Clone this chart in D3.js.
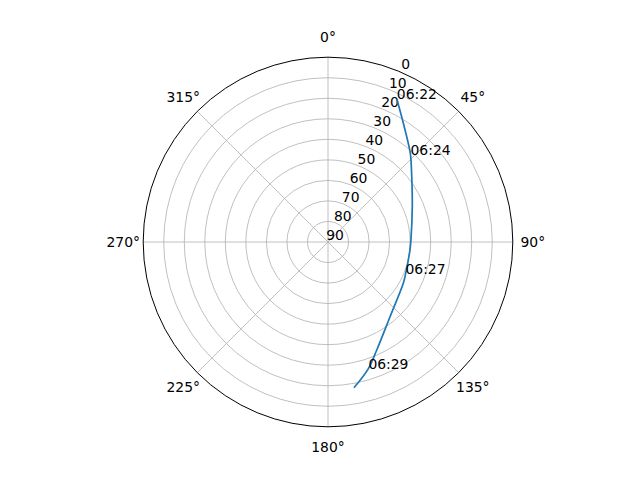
<!DOCTYPE html>
<html>
<head>
<meta charset="utf-8">
<script src="https://cdn.jsdelivr.net/npm/d3@7"></script>
<style>
  body { margin: 0; background: #fff; }
  text { font-family: "DejaVu Sans", sans-serif; font-size: 13.9px; fill: #000; }
</style>
</head>
<body>
<div id="chart"></div>
<script>
// satellite pass: azimuth (deg, clockwise from north) and elevation (deg)
let azimuth   = [25.7, 32.4, 40.4, 43.5, 50.6, 67.3, 88.6, 95.6, 112.7, 118.7, 140.3, 155.7, 162.3, 169.9];
let elevation = [12.7, 21.5, 29.1, 31.6, 37.3, 45.5, 49.6, 49.9, 49.1, 48.2, 42.7, 32.3, 25.3, 17.9];
let times     = ["06:22", "", "", "06:24", "", "", "", "", "06:27", "", "", "", "06:29", ""];

let angleTicks = [0, 45, 90, 135, 180, 225, 270, 315];
let elevTicks  = [0, 10, 20, 30, 40, 50, 60, 70, 80, 90];

let width = 640, height = 480;
let cx = 328, cy = 242, R = 184.8;

let svg = d3.select("#chart")
  .append("svg")
    .attr("width", width)
    .attr("height", height);

let g = svg.append("g").attr("transform", "translate(" + cx + "," + cy + ")");

// elevation 90 at the centre, 0 at the rim
let r = d3.scaleLinear().domain([90, 0]).range([0, R]);
let ang = d3.scaleLinear().domain([0, 360]).range([0, 2 * Math.PI]);

function px(a, e) { return r(e) * Math.sin(ang(a)); }
function py(a, e) { return -r(e) * Math.cos(ang(a)); }

// grid circles
g.selectAll(".ring").data(elevTicks.filter(d => d > 0 && d < 90)).enter()
  .append("circle")
  .attr("r", d => r(d))
  .attr("fill", "none")
  .attr("stroke", "#b0b0b0")
  .attr("stroke-width", 0.8);

// spokes
g.selectAll(".spoke").data(angleTicks).enter()
  .append("line")
  .attr("x1", 0).attr("y1", 0)
  .attr("x2", d => px(d, 0))
  .attr("y2", d => py(d, 0))
  .attr("stroke", "#b0b0b0")
  .attr("stroke-width", 0.8);

// outer spine
g.append("circle")
  .attr("r", r(0))
  .attr("fill", "none")
  .attr("stroke", "#000")
  .attr("stroke-width", 1);

// angle labels
g.selectAll(".alabel").data(angleTicks).enter()
  .append("text")
  .attr("x", d => Math.sin(ang(d)) * (R + 20))
  .attr("y", d => -Math.cos(ang(d)) * (R + 20))
  .attr("text-anchor", "middle")
  .attr("dominant-baseline", "central")
  .text(d => d + "°");

// elevation labels along 22.5°
g.selectAll(".rlabel").data(elevTicks).enter()
  .append("text")
  .attr("x", d => px(22.5, d) + 7)
  .attr("y", d => py(22.5, d) - 7)
  .attr("text-anchor", "middle")
  .attr("dominant-baseline", "central")
  .text(d => d);

// track
let pts = azimuth.map((a, i) => [ang(a), r(elevation[i])]);
let line = d3.lineRadial().curve(d3.curveCatmullRom);
g.append("path")
  .attr("d", line(pts))
  .attr("fill", "none")
  .attr("stroke", "#1f77b4")
  .attr("stroke-width", 1.7);

// time labels
g.selectAll(".tlabel").data(times.map((t, i) => [t, i]).filter(d => d[0] !== "")).enter()
  .append("text")
  .attr("x", d => px(azimuth[d[1]], elevation[d[1]]))
  .attr("y", d => py(azimuth[d[1]], elevation[d[1]]))
  .text(d => d[0]);
</script>
</body>
</html>
